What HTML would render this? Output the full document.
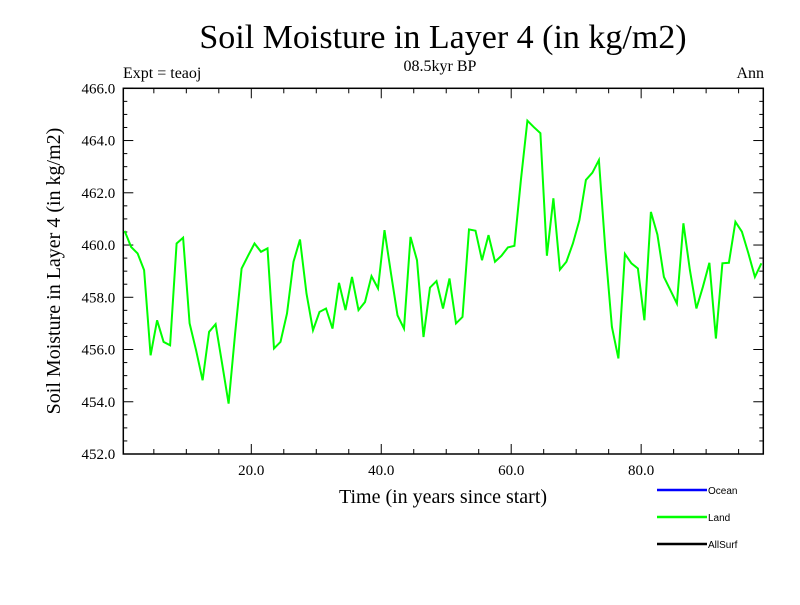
<!DOCTYPE html>
<html><head><meta charset="utf-8"><style>
body{margin:0;background:#fff}
svg text{font-family:"Liberation Serif",serif}
</style></head><body>
<svg id="chart" width="800" height="600" xmlns="http://www.w3.org/2000/svg">
<rect width="800" height="600" fill="#fff"/>
<text x="443" y="48" font-size="34" text-anchor="middle">Soil Moisture in Layer 4 (in kg/m2)</text>
<text x="440" y="71" font-size="16" text-anchor="middle">08.5kyr BP</text>
<text x="123" y="78" font-size="16">Expt = teaoj</text>
<text x="764" y="78" font-size="16" text-anchor="end">Ann</text>
<text x="443" y="503" font-size="20" text-anchor="middle">Time (in years since start)</text>
<text transform="translate(60,271) rotate(-90)" font-size="20" text-anchor="middle">Soil Moisture in Layer 4 (in kg/m2)</text>
<g id="axes"></g>
<g id="series"></g>
<g font-family="Liberation Sans, sans-serif">
<line x1="657" y1="490" x2="707" y2="490" stroke="#0000ff" stroke-width="2.5"/>
<text x="708" y="494" font-size="10" style="font-family:'Liberation Sans',sans-serif">Ocean</text>
<line x1="657" y1="517" x2="707" y2="517" stroke="#00ff00" stroke-width="2.5"/>
<text x="708" y="521" font-size="10" style="font-family:'Liberation Sans',sans-serif">Land</text>
<line x1="657" y1="544" x2="707" y2="544" stroke="#000" stroke-width="2.5"/>
<text x="708" y="548" font-size="10" style="font-family:'Liberation Sans',sans-serif">AllSurf</text>
</g>
</svg>
<script>
const landValues=[460.54,459.93,459.68,459.04,455.78,457.12,456.29,456.16,460.06,460.28,457.0,455.97,454.82,456.68,456.97,455.46,453.93,456.61,459.1,459.59,460.06,459.74,459.87,456.04,456.29,457.38,459.36,460.21,458.14,456.74,457.44,457.57,456.8,458.55,457.51,458.78,457.51,457.82,458.81,458.34,460.57,458.91,457.31,456.8,460.31,459.42,456.48,458.37,458.62,457.57,458.72,457.0,457.25,460.6,460.55,459.42,460.38,459.36,459.59,459.91,459.97,462.49,464.76,464.51,464.28,459.59,461.79,459.06,459.36,460.06,460.95,462.49,462.77,463.25,459.8,456.87,455.66,459.66,459.3,459.1,457.12,461.27,460.4,458.78,458.27,457.76,460.83,459.04,457.57,458.4,459.32,456.42,459.3,459.32,460.89,460.51,459.68,458.78,459.3];
const yTickLabels=["452.0","454.0","456.0","458.0","460.0","462.0","464.0","466.0"];
const xTickLabels=["20.0","40.0","60.0","80.0"];
const NS="http://www.w3.org/2000/svg";
const L=123.3,R=763.3,T=88.3,B=454,XMIN=0.3,XMAX=98.8,YMIN=452,YMAX=466;
function sx(v){return L+(v-XMIN)/(XMAX-XMIN)*(R-L);}
function sy(v){return B-(v-YMIN)/(YMAX-YMIN)*(B-T);}
function mk(tag,attrs,parent){const e=document.createElementNS(NS,tag);for(const k in attrs)e.setAttribute(k,attrs[k]);parent.appendChild(e);return e;}
const ax=document.getElementById('axes');
const frame=mk('rect',{x:L,y:T,width:R-L,height:B-T,fill:'none',stroke:'#000','stroke-width':1.5},ax);


for(let v=YMIN;v<=YMAX+1e-6;v+=0.5){
  const y=sy(v),major=Math.abs(v-Math.round(v/2)*2)<1e-6,len=major?10:4;
  mk('line',{x1:L,y1:y,x2:L+len,y2:y,stroke:'#000','stroke-width':1},ax);
  mk('line',{x1:R,y1:y,x2:R-len,y2:y,stroke:'#000','stroke-width':1},ax);
}
yTickLabels.forEach(s=>{
  const t=mk('text',{x:L-8,y:sy(parseFloat(s))+5,'font-size':15,'text-anchor':'end'},ax);
  t.textContent=s;
  
  
});
for(let v=5;v<XMAX;v+=5){
  const x=sx(v),major=v%20===0,len=major?10:5;
  mk('line',{x1:x,y1:B,x2:x,y2:B-len,stroke:'#000','stroke-width':1},ax);
  mk('line',{x1:x,y1:T,x2:x,y2:T+len,stroke:'#000','stroke-width':1},ax);
}
xTickLabels.forEach(s=>{
  const t=mk('text',{x:sx(parseFloat(s)),y:B+21,'font-size':15,'text-anchor':'middle'},ax);
  t.textContent=s;
  
  
});
const pts=landValues.map((v,i)=>sx(i+0.5).toFixed(1)+','+sy(v).toFixed(1)).join(' ');
const line=mk('polyline',{points:pts,fill:'none',stroke:'#00ff00','stroke-width':2,'stroke-linejoin':'miter'},document.getElementById('series'));


</script>
</body></html>
